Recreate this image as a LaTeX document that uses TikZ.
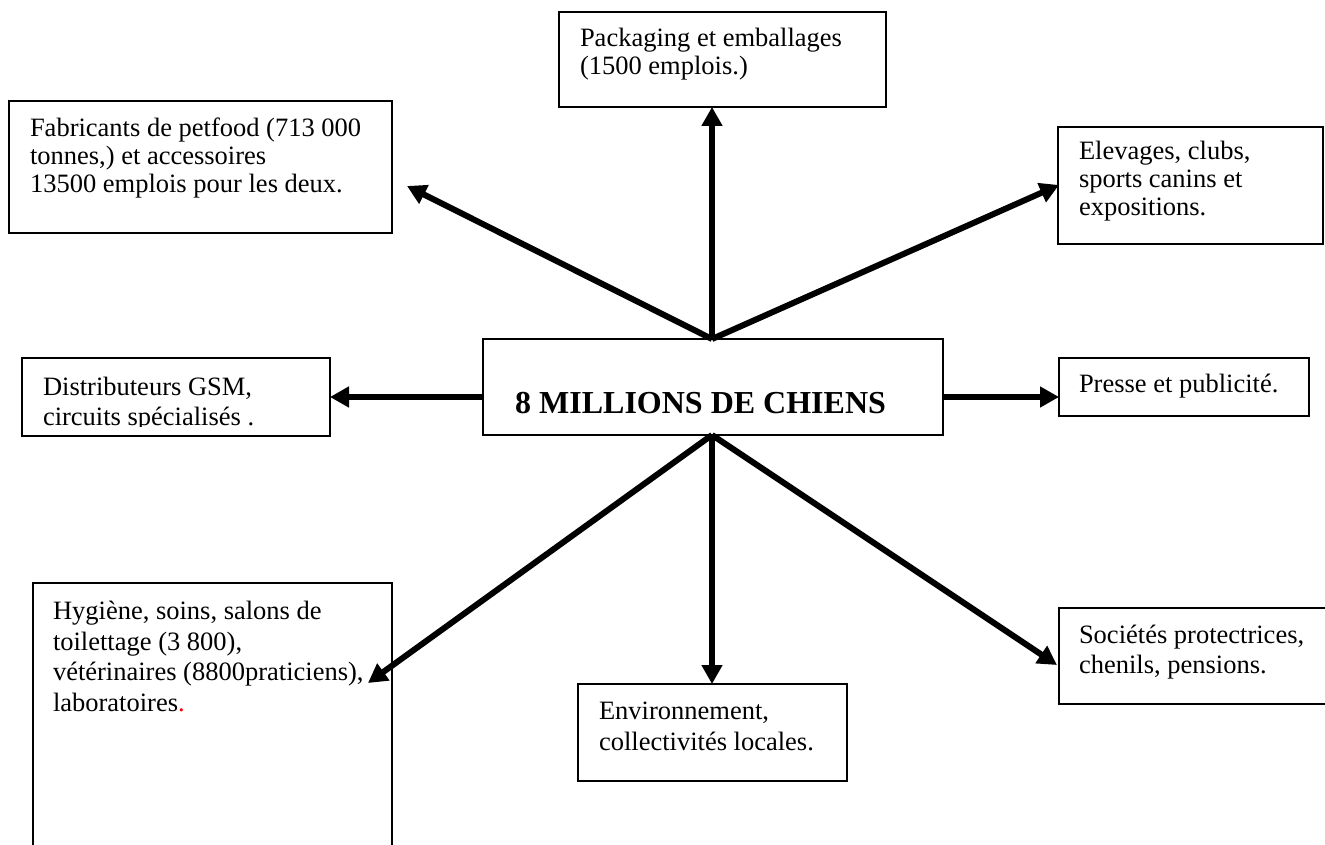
\documentclass[tikz,border=0pt]{standalone}
\usepackage{fontspec}
\setmainfont{Liberation Serif}
\usetikzlibrary{arrows.meta}
\begin{document}
\begin{tikzpicture}[x=1pt,y=-1pt,
  box/.style={draw=black,line width=2pt,rectangle,inner sep=0pt,outer sep=0pt},
  txt/.style={anchor=base west,inner sep=0pt,outer sep=0pt,font=\fontsize{26.5pt}{28pt}\selectfont},
  arr/.style={line width=6pt,-{Triangle[length=19pt,width=20pt]}}]
\useasboundingbox[fill=white] (0,0) rectangle (1325,845);
% boxes
\node[box,minimum width=327pt,minimum height=95pt] (pack) at (722.5,59.5) {};
\node[box,minimum width=383pt,minimum height=132pt] (fab) at (200.5,167) {};
\node[box,minimum width=265pt,minimum height=117pt] (elev) at (1190.5,185.5) {};
\node[box,minimum width=308pt,minimum height=78pt] (dist) at (176,397) {};
\node[box,minimum width=460pt,minimum height=96pt] (main) at (713,387) {};
\node[box,minimum width=250pt,minimum height=58pt] (presse) at (1184,387) {};
\node[box,minimum width=359pt,minimum height=277pt] (hyg) at (212.5,721.5) {};
\node[box,minimum width=269pt,minimum height=97pt] (env) at (712.5,732.5) {};
\node[box,minimum width=281pt,minimum height=96pt] (soc) at (1199.5,656) {};
% texts
\node[txt] (pack1) at (580,47) {Packaging et emballages};
\node[txt] (pack2) at (580,75) {(1500 emplois.)};
\node[txt] (fab1) at (30,137) {Fabricants de petfood (713 000};
\node[txt] (fab2) at (30,165) {tonnes,) et accessoires};
\node[txt] (fab3) at (30,193) {13500 emplois pour les deux.};
\node[txt] (elev1) at (1079,160) {Elevages, clubs,};
\node[txt] (elev2) at (1079,188) {sports canins et};
\node[txt] (elev3) at (1079,216) {expositions.};
\begin{scope}
\clip (22,358) rectangle (330,426.5);
\node[txt] (dist1) at (43,395) {Distributeurs GSM,};
\node[txt] (dist2) at (43,425) {circuits spécialisés .};
\end{scope}
\node[anchor=base west,inner sep=0pt,font=\bfseries\fontsize{32pt}{34pt}\selectfont] (mtext) at (515,413) {8 MILLIONS DE CHIENS};
\node[txt] (presse1) at (1079,392) {Presse et publicité.};
\node[txt] (hyg1) at (53,619) {Hygiène, soins, salons de};
\node[txt] (hyg2) at (53,650) {toilettage (3 800),};
\node[txt] (hyg3) at (53,680) {vétérinaires (8800praticiens),};
\node[txt] (hyg4) at (53,711) {laboratoires\textcolor{red}{.}};
\node[txt] (env1) at (599,719) {Environnement,};
\node[txt] (env2) at (599,750) {collectivités locales.};
\node[txt] (soc1) at (1079,643) {Sociétés protectrices,};
\node[txt] (soc2) at (1079,673) {chenils, pensions.};
% arrow targets
\coordinate (top) at (712,339);
\coordinate (bot) at (712,435);
\coordinate (fabtip) at (407,186);
\coordinate (elevtip) at (1059,185);
\coordinate (hygtip) at (368,683);
\coordinate (soctip) at (1057,665);
\coordinate (ltail) at (483,397);
\coordinate (rtail) at (943,397);
% arrows
\draw[arr] (top) -- (pack.south -| top);
\draw[arr] (top) -- (fabtip);
\draw[arr] (top) -- (elevtip);
\draw[arr] (ltail) -- (ltail -| dist.east);
\draw[arr] (rtail) -- (rtail -| presse.west);
\draw[arr] (bot) -- (hygtip);
\draw[arr] (bot) -- (env.north -| bot);
\draw[arr] (bot) -- (soctip);
\end{tikzpicture}
\end{document}
